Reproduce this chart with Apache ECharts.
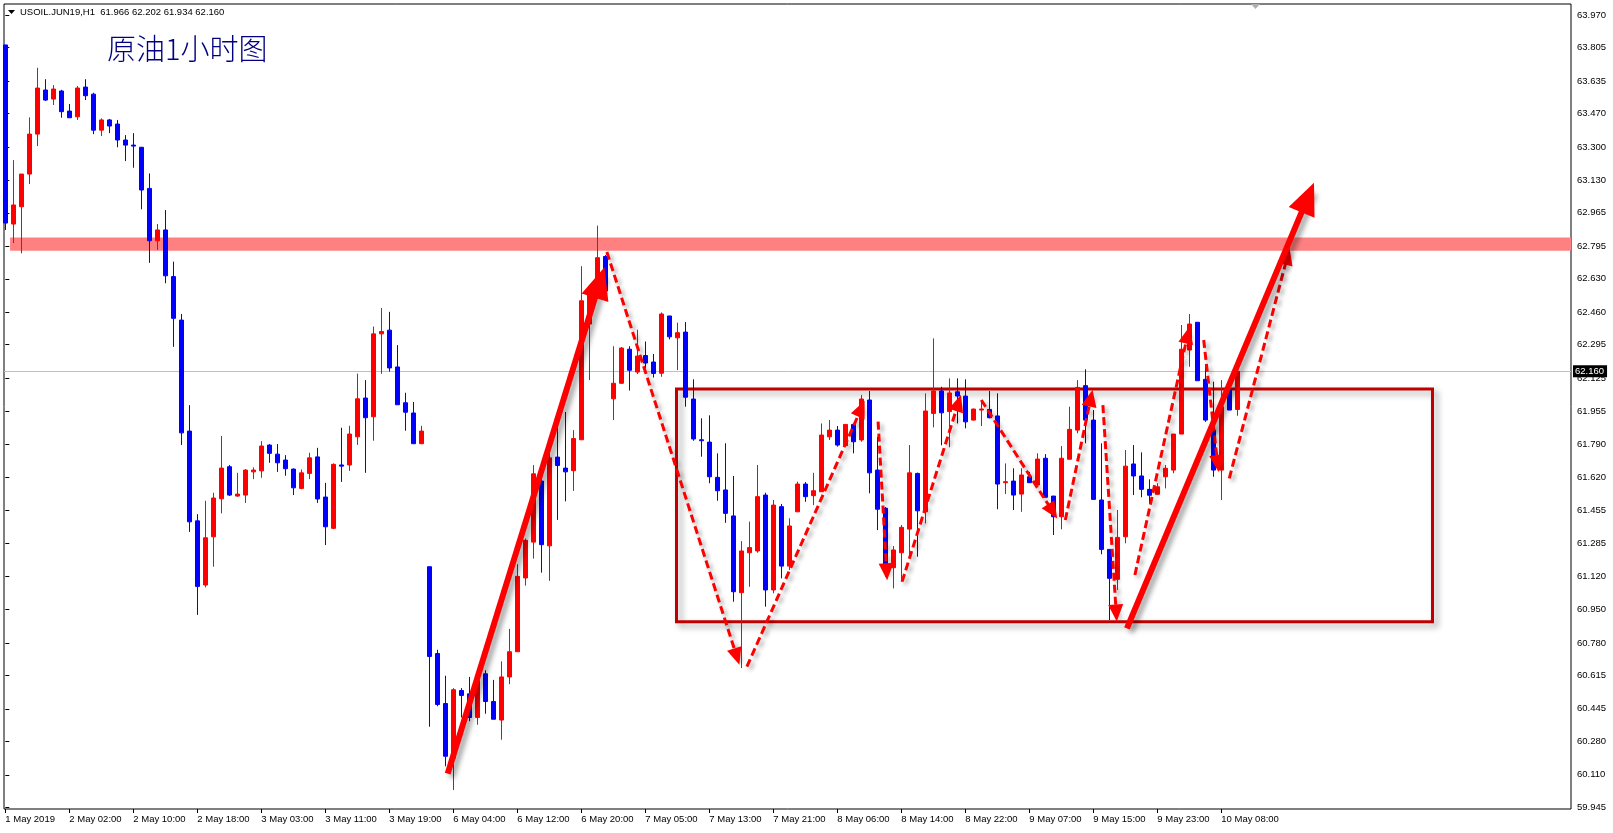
<!DOCTYPE html>
<html><head><meta charset="utf-8">
<script src="https://cdn.jsdelivr.net/npm/echarts@6/dist/echarts.min.js"></script>
<style>html,body{margin:0;padding:0;background:#fff}#c{width:1613px;height:833px}</style>
</head><body><div id="c"></div><script>
const symbolName = 'USOIL.JUN19,H1';
const headerOHLC = ['61.966', '62.202', '61.934', '62.160'];
const titleText = '原油1小时图';

const opens = [63.818,62.908,62.996,63.162,63.365,63.589,63.543,63.584,63.482,63.453,63.604,63.568,63.385,63.437,63.416,63.335,63.309,63.298,63.089,62.823,
62.878,62.641,62.420,61.856,61.400,61.074,61.319,61.512,61.675,61.526,61.531,61.649,61.654,61.785,61.739,61.709,61.663,61.565,61.641,61.725,
61.521,61.362,61.684,61.684,61.827,62.024,61.929,62.350,62.369,62.182,62.000,61.948,61.792,61.167,60.726,60.472,60.194,60.538,60.521,60.401,
60.623,60.482,60.388,60.607,60.735,61.110,61.292,61.602,61.273,61.724,61.668,61.655,61.812,62.400,62.559,62.743,62.020,62.099,62.272,62.156,
62.240,62.207,62.150,62.441,62.330,62.359,62.019,61.812,61.800,61.621,61.557,61.425,61.035,61.238,61.247,61.531,61.049,61.472,61.170,61.446,
61.587,61.528,61.548,61.827,61.861,61.782,61.890,61.811,62.014,61.658,61.464,61.162,61.238,61.358,61.641,61.446,61.946,62.060,61.955,62.056,
62.034,61.912,61.963,61.966,61.933,61.594,61.602,61.536,61.624,61.582,61.718,61.526,61.421,61.713,61.861,62.087,61.912,61.506,61.255,61.103,
61.319,61.689,61.628,61.560,61.535,61.624,61.658,61.841,62.268,62.409,62.119,61.861,61.658,62.068,61.966];
const highs = [63.818,63.233,63.162,63.450,63.702,63.644,63.614,63.590,63.518,63.609,63.644,63.575,63.445,63.442,63.437,63.360,63.370,63.300,63.165,62.908,
62.979,62.717,62.451,61.988,61.434,61.502,61.543,61.831,61.684,61.644,61.663,61.672,61.805,61.790,61.790,61.734,61.666,61.661,61.746,61.771,
61.593,61.692,61.873,61.883,62.148,62.115,62.387,62.481,62.462,62.293,62.051,62.004,61.883,61.167,60.745,60.613,60.550,60.550,60.607,60.611,
60.641,60.592,60.686,60.851,61.180,61.310,61.683,61.617,61.790,61.896,61.953,61.861,62.694,62.560,62.900,62.750,62.287,62.283,62.287,62.371,
62.311,62.248,62.459,62.441,62.407,62.410,62.119,61.921,61.936,61.743,61.794,61.628,61.297,61.396,61.684,61.543,61.506,61.486,61.413,61.599,
61.597,61.644,61.895,61.912,61.882,61.890,61.892,62.040,62.060,61.827,61.470,61.272,61.379,61.785,61.645,62.048,62.327,62.081,62.124,62.124,
62.119,61.970,62.014,62.060,62.048,61.692,61.667,61.667,61.649,61.743,61.739,61.526,61.780,61.980,62.115,62.170,61.963,61.794,61.255,61.455,
61.760,61.785,61.748,61.611,61.591,61.684,61.841,62.395,62.451,62.409,62.192,62.107,62.115,62.068,62.202];
const lows = [62.878,62.811,62.759,63.111,63.304,63.533,63.513,63.448,63.448,63.437,63.538,63.365,63.355,63.370,63.298,63.228,63.194,62.983,62.711,62.776,
62.607,62.284,61.785,61.344,60.922,61.062,61.167,61.438,61.526,61.522,61.491,61.612,61.619,61.695,61.649,61.629,61.531,61.561,61.612,61.491,
61.277,61.358,61.598,61.654,61.786,61.644,61.807,62.147,62.158,61.990,61.858,61.792,61.790,60.354,60.458,60.153,60.032,60.401,60.382,60.364,
60.420,60.392,60.288,60.570,60.735,61.071,61.208,61.137,61.095,61.405,61.499,61.552,61.812,62.115,62.540,62.563,61.912,62.096,62.062,62.146,
62.174,62.128,62.132,62.322,62.166,61.980,61.807,61.726,61.591,61.502,61.390,60.989,60.652,61.065,61.238,60.964,61.032,61.108,61.150,61.446,
61.497,61.480,61.548,61.811,61.777,61.782,61.743,61.802,61.540,61.353,61.116,61.057,61.091,61.218,61.218,61.387,61.875,61.784,61.774,61.895,
61.870,61.910,61.882,61.921,61.459,61.536,61.455,61.446,61.594,61.582,61.520,61.328,61.357,61.713,61.845,61.794,61.509,61.230,60.896,61.049,
61.286,61.531,61.520,61.489,61.535,61.565,61.642,61.841,62.183,62.112,61.903,61.624,61.506,61.963,61.934];
const closes = [62.913,63.005,63.162,63.365,63.599,63.538,63.594,63.479,63.448,63.599,63.560,63.385,63.437,63.406,63.335,63.309,63.304,63.081,62.823,62.878,
62.645,62.429,61.847,61.395,61.067,61.314,61.516,61.668,61.531,61.536,61.658,61.658,61.780,61.743,61.695,61.665,61.568,61.644,61.720,61.511,
61.370,61.687,61.678,61.841,62.020,61.924,62.350,62.362,62.177,61.990,61.952,61.792,61.856,60.711,60.467,60.204,60.542,60.513,60.401,60.589,
60.482,60.392,60.607,60.735,61.118,61.301,61.639,61.279,61.720,61.681,61.649,61.818,62.518,62.549,62.737,62.568,62.099,62.278,62.165,62.237,
62.202,62.149,62.451,62.335,62.356,62.028,61.816,61.807,61.624,61.553,61.438,61.040,61.247,61.264,61.523,61.049,61.480,61.170,61.374,61.587,
61.523,61.553,61.836,61.861,61.785,61.890,61.802,62.019,61.644,61.459,61.167,61.252,61.367,61.644,61.451,61.958,62.060,61.949,62.050,62.034,
61.903,61.968,61.968,61.924,61.587,61.599,61.531,61.633,61.594,61.714,61.520,61.421,61.718,61.865,62.078,61.912,61.509,61.255,61.108,61.316,
61.678,61.628,61.560,61.530,61.573,61.667,61.841,62.272,62.400,62.112,61.912,61.658,61.980,61.963,62.160];

const xTickBars = [0,8,16,24,32,40,48,56,64,72,80,88,96,104,112,120,128,136,144,152];
const xTickLabels = ['1 May 2019','2 May 02:00','2 May 10:00','2 May 18:00','3 May 03:00','3 May 11:00','3 May 19:00',
  '6 May 04:00','6 May 12:00','6 May 20:00','7 May 05:00','7 May 13:00','7 May 21:00','8 May 06:00','8 May 14:00',
  '8 May 22:00','9 May 07:00','9 May 15:00','9 May 23:00','10 May 08:00'];
const yTickLabels = ['63.970','63.805','63.635','63.470','63.300','63.130','62.965','62.795','62.630','62.460','62.295','62.125',
  '61.955','61.790','61.620','61.455','61.285','61.120','60.950','60.780','60.615','60.445','60.280','60.110','59.945'];

const lastPrice = 62.160;
const resistanceBand = [62.840, 62.772];
const rangeBox = [[83.9, 62.070], [178.4, 60.887]];
const solidArrows = [
  [[55.3, 60.116], [74.6, 62.650]],
  [[140.2, 60.854], [163.2, 63.080]]
];
const dashedArrows = [
  [[75.2, 62.766], [91.6, 60.690]],
  [[92.7, 60.659], [107.2, 61.990]],
  [[109.1, 61.904], [110.2, 61.120]],
  [[112.1, 61.091], [119.3, 62.020]],
  [[122.0, 62.014], [131.2, 61.430]],
  [[132.5, 61.404], [135.8, 62.045]],
  [[137.2, 61.988], [138.9, 60.910]],
  [[141.2, 61.125], [147.9, 62.365]],
  [[149.8, 62.319], [151.6, 61.670]],
  [[153.0, 61.616], [160.4, 62.765]]
];

const candleData = opens.map((o, i) => [i, o, closes[i], lows[i], highs[i]]);
const FONT = 'Liberation Sans';

function arrowPairs(list, size) {
  return list.map(a => [
    {coord: a[0], symbol: 'none'},
    {coord: a[1], symbol: 'triangle', symbolSize: size, symbolOffset: [0, '25%'], itemStyle: {color: '#ff0000'}}
  ]);
}

const chart = echarts.init(document.getElementById('c'), null, {renderer: 'canvas'});
chart.setOption({
  animation: false,
  backgroundColor: '#ffffff',
  grid: {left: 4, right: 42, top: 4, bottom: 24, show: true, borderColor: '#000', borderWidth: 1, backgroundColor: '#fff'},
  xAxis: {
    type: 'value', min: -0.1625, max: 195.7125,
    axisLine: {show: false}, splitLine: {show: false},
    axisTick: {show: true, length: 4, customValues: xTickBars, lineStyle: {color: '#000'}},
    axisLabel: {
      customValues: xTickBars, align: 'left', margin: 5, fontSize: 9.5, fontFamily: FONT, color: '#000',
      formatter: v => xTickLabels[xTickBars.indexOf(Math.round(v))] || ''
    }
  },
  yAxis: {
    type: 'value', position: 'right', min: 59.936, max: 64.026, scale: true,
    axisLine: {show: false}, splitLine: {show: false},
    axisTick: {show: true, length: 4, customValues: yTickLabels.map(Number), lineStyle: {color: '#000'}},
    axisLabel: {
      customValues: yTickLabels.map(Number), margin: 6, fontSize: 9.5, fontFamily: FONT, color: '#000',
      formatter: v => v.toFixed(3)
    }
  },
  graphic: [
    {type: 'polygon', shape: {points: [[8, 10], [15, 10], [11.5, 14]]}, style: {fill: '#000'}},
    {type: 'text', left: 20, top: 7, style: {text: symbolName + '  ' + headerOHLC.join(' '), fontSize: 9.5, fontFamily: FONT, fill: '#000'}},
    {type: 'text', left: 107, top: 34, style: {text: titleText, fontSize: 29, fontFamily: 'Noto Sans CJK SC', fontWeight: 300, fill: '#000080'}},
    {type: 'polygon', shape: {points: [[1251, 4], [1260, 4], [1255.5, 9]]}, style: {fill: '#b0b0b0'}}
  ],
  series: [
    {
      type: 'line', data: [], silent: true, z: 1,
      markArea: {
        silent: true,
        data: [
          [{coord: [0.6, resistanceBand[0]], itemStyle: {color: '#ff8080'}}, {coord: [195.7125, resistanceBand[1]]}],
          [{coord: rangeBox[0], itemStyle: {color: 'rgba(0,0,0,0)', borderColor: '#c00000', borderWidth: 3,
             shadowBlur: 6, shadowColor: 'rgba(0,0,0,0.35)', shadowOffsetX: 4, shadowOffsetY: 4}}, {coord: rangeBox[1]}]
        ]
      }
    },
    {
      type: 'candlestick', z: 2,
      dimensions: ['idx', 'open', 'close', 'lowest', 'highest'],
      encode: {x: 'idx', y: ['open', 'close', 'lowest', 'highest']},
      data: candleData,
      barWidth: 4,
      itemStyle: {color: '#ff0000', color0: '#0000ff', borderColor: '#ff0000', borderColor0: '#0000ff', borderColorDoji: '#ff0000', borderWidth: 1},
      markLine: {
        silent: true, symbol: 'none', z: 1, animation: false,
        lineStyle: {color: '#c0c0c0', width: 1, type: 'solid'},
        label: {show: true, position: 'end', distance: 2, formatter: lastPrice.toFixed(3), backgroundColor: '#000', color: '#fff',
          padding: [1, 3, 1, 2], fontSize: 9.5, fontFamily: FONT},
        data: [{yAxis: lastPrice}]
      }
    },
    {
      type: 'line', data: [], silent: true, z: 5, color: '#ff0000',
      markLine: {
        silent: true, animation: false,
        symbol: ['none', 'triangle'], symbolSize: 16,
        itemStyle: {color: '#ff0000'},
        lineStyle: {color: '#ff0000', width: 3, type: [8, 4], shadowBlur: 4, shadowColor: 'rgba(0,0,0,0.35)', shadowOffsetX: 3, shadowOffsetY: 3},
        label: {show: false},
        data: arrowPairs(dashedArrows, [15, 17])
      }
    },
    {
      type: 'line', data: [], silent: true, z: 6, color: '#ff0000',
      markLine: {
        silent: true, animation: false,
        symbol: ['none', 'triangle'], symbolSize: 30,
        itemStyle: {color: '#ff0000'},
        lineStyle: {color: '#ff0000', width: 6, type: 'solid', shadowBlur: 5, shadowColor: 'rgba(0,0,0,0.35)', shadowOffsetX: 4, shadowOffsetY: 4},
        label: {show: false},
        data: arrowPairs(solidArrows, [28, 32])
      }
    }
  ]
});
</script></body></html>
